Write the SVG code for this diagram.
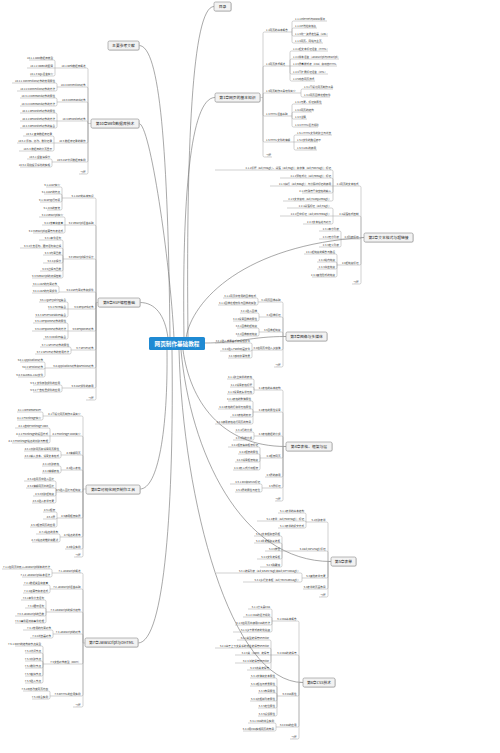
<svg xmlns="http://www.w3.org/2000/svg" width="500" height="753" viewBox="0 0 500 753">
<style>
.t{font-family:"Noto Sans CJK SC","Liberation Sans",sans-serif;font-size:2.6px;fill:#333}
.e{text-anchor:end}
.bx{fill:#f2f2f2;stroke:#8a8a8a;stroke-width:.6}
.sh{fill:#d0d0d0}
.bt{font-family:"Noto Sans CJK SC","Liberation Sans",sans-serif;font-size:3.8px;fill:#222;text-anchor:middle}
.ln{fill:none;stroke:#9a9a9a;stroke-width:.45}
.cv{fill:none;stroke:#6e6e6e;stroke-width:.6}
</style>
<rect width="500" height="753" fill="#fff"/>
<g id="connectors">
<g class="cv">
<path d="M188,338 C186,150 192,6.5 214,6.5"/>
<path d="M184,338 C182,200 190,97.5 215,97.5"/>
<path d="M186,338 C192,300 245,245 364,237.5"/>
<path d="M204,343 C240,343 250,336.5 286,336.5"/>
<path d="M183,350 C190,400 220,446.5 286,446.5"/>
<path d="M181,350 C190,450 240,561.5 331,561.5"/>
<path d="M179,350 C183,500 230,682.5 303,682.5"/>
<path d="M170,338 C168,150 160,45.5 139,45.5"/>
<path d="M174,338 C170,260 150,123.5 139,123.5"/>
<path d="M168,338 C165,315 155,302.5 140,302.5"/>
<path d="M167,350 C168,430 158,489 140,489"/>
<path d="M172,350 C174,500 165,643 138,643"/>
</g>
<g class="ln">
<path d="M260,97.5 H263 M263,97.5 V33.5 Q263,32 264.5,32 H292 M263,97.5 V67.5 Q263,66 264.5,66 H290 M263,97.5 V94.5 Q263,93 264.5,93 H301 M263,97.5 V114.5 Q263,116 264.5,116 H292 M263,97.5 V140.5 Q263,142 264.5,142 H294 M263,97.5 V155.5 Q263,157 264.5,157 H272"/>
<path d="M292,32 V22.5 Q292,21 293.5,21 H327 M292,32 V29.5 Q292,28 293.5,28 H317 M292,32 V34.5 Q292,36 293.5,36 H328 M292,32 V41.5 Q292,43 293.5,43 H323"/>
<path d="M290,66 V52.5 Q290,51 291.5,51 H328 M290,66 V60.5 Q290,59 291.5,59 H339 M290,66 H337 M290,66 V72.5 Q290,74 291.5,74 H328 M290,66 V79.5 Q290,81 291.5,81 H315"/>
<path d="M301,93 V90.5 Q301,89 302.5,89 H333 M301,93 V95.5 Q301,97 302.5,97 H330"/>
<path d="M292,116 V105.5 Q292,104 293.5,104 H322 M292,116 V113.5 Q292,112 293.5,112 H312 M292,116 V117.5 Q292,119 293.5,119 H307 M292,116 V125.5 Q292,127 293.5,127 H318"/>
<path d="M294,142 V136.5 Q294,135 295.5,135 H332 M294,142 H318 M294,142 V148.5 Q294,150 295.5,150 H317"/>

<path d="M364,237.5 H361 M361,237.5 V187.5 Q361,186 359.5,186 H333 M361,237.5 V217.5 Q361,216 359.5,216 H333 M361,237.5 Q361,239 359.5,239 H341 M361,237.5 V263.5 Q361,265 359.5,265 H337 M361,237.5 V282.5 Q361,284 359.5,284 H352"/>
<path d="M333,186 V171.5 Q333,170 331.5,170 H215 M333,186 V179.5 Q333,178 331.5,178 H280 M333,186 H270 M333,186 V191.5 Q333,193 331.5,193 H302 M333,186 V199.5 Q333,201 331.5,201 H283"/>
<path d="M333,216 V209.5 Q333,208 331.5,208 H287 M333,216 H280 M333,216 V222.5 Q333,224 331.5,224 H303"/>
<path d="M341,239 V232.5 Q341,231 339.5,231 H319 M341,239 H319 M341,239 V245.5 Q341,247 339.5,247 H319"/>
<path d="M337,265 V255.5 Q337,254 335.5,254 H304 M337,265 V263.5 Q337,262 335.5,262 H317 M337,265 V267.5 Q337,269 335.5,269 H317 M337,265 V275.5 Q337,277 335.5,277 H312"/>

<path d="M286,336.5 H283 M283,336.5 V303.5 Q283,302 281.5,302 H258 M283,336.5 V318.5 Q283,317 281.5,317 H259 M283,336.5 V333.5 Q283,332 281.5,332 H259 M283,336.5 V348.5 Q283,350 281.5,350 H252 M283,336.5 V365.5 Q283,367 281.5,367 H274"/>
<path d="M258,302 V299.5 Q258,298 256.5,298 H223 M258,302 V303.5 Q258,305 256.5,305 H218 M259,317 V314.5 Q259,313 257.5,313 H240 M259,317 V319.5 Q259,321 257.5,321 H233 M259,332 V329.5 Q259,328 257.5,328 H237 M259,332 V334.5 Q259,336 257.5,336 H237 M252,350 V344.5 Q252,343 250.5,343 H215 M252,350 Q252,351 250.5,351 H220 M252,350 V356.5 Q252,358 250.5,358 H228"/>

<path d="M286,446.5 H283 M283,446.5 V391.5 Q283,390 281.5,390 H254 M283,446.5 V413.5 Q283,412 281.5,412 H253 M283,446.5 V437.5 Q283,436 281.5,436 H254 M283,446.5 V456.5 Q283,458 281.5,458 H260 M283,446.5 V475.5 Q283,477 281.5,477 H265 M283,446.5 V486.5 Q283,488 281.5,488 H262 M283,446.5 V499.5 Q283,501 281.5,501 H275"/>
<path d="M254,390 V380.5 Q254,379 252.5,379 H227 M254,390 V388.5 Q254,387 252.5,387 H230 M254,390 V392.5 Q254,394 252.5,394 H227"/>
<path d="M253,412 V402.5 Q253,401 251.5,401 H228 M253,412 V410.5 Q253,409 251.5,409 H218 M253,412 V415.5 Q253,417 251.5,417 H230 M253,412 V422.5 Q253,424 251.5,424 H215"/>
<path d="M254,436 V433.5 Q254,432 252.5,432 H235 M254,436 V438.5 Q254,440 252.5,440 H233"/>
<path d="M260,458 V448.5 Q260,447 258.5,447 H228 M260,458 V455.5 Q260,454 258.5,454 H238 M260,458 V460.5 Q260,462 258.5,462 H235 M260,458 V468.5 Q260,470 258.5,470 H233"/>
<path d="M262,488 V485.5 Q262,484 260.5,484 H230 M262,488 V490.5 Q262,492 260.5,492 H235"/>

<path d="M331,561.5 H328 M328,561.5 V523.5 Q328,522 326.5,522 H306 M328,561.5 V552.5 Q328,551 326.5,551 H282 M328,561.5 V576.5 Q328,578 326.5,578 H302 M328,561.5 V587.5 Q328,589 326.5,589 H303 M328,561.5 V595.5 Q328,597 326.5,597 H319"/>
<path d="M306,522 V514.5 Q306,513 304.5,513 H278 M306,522 Q306,521 304.5,521 H257 M306,522 V526.5 Q306,528 304.5,528 H278"/>
<path d="M282,551 V537.5 Q282,536 280.5,536 H254 M282,551 V544.5 Q282,543 280.5,543 H254 M282,551 H265 M282,551 V557.5 Q282,559 280.5,559 H257 M282,551 V565.5 Q282,567 280.5,567 H260"/>
<path d="M302,578 V574.5 Q302,573 300.5,573 H216 M302,578 V580.5 Q302,582 300.5,582 H243"/>

<path d="M303,682.5 H299 M299,682.5 V622.5 Q299,621 297.5,621 H272 M299,682.5 V656.5 Q299,655 297.5,655 H271 M299,682.5 V694.5 Q299,696 297.5,696 H277 M299,682.5 V725.5 Q299,727 297.5,727 H276 M299,682.5 V737.5 Q299,739 297.5,739 H290"/>
<path d="M272,621 V610.5 Q272,609 270.5,609 H248 M272,621 V618.5 Q272,617 270.5,617 H243 M272,621 V623.5 Q272,625 270.5,625 H235 M272,621 V630.5 Q272,632 270.5,632 H233"/>
<path d="M271,655 V641.5 Q271,640 269.5,640 H237 M271,655 V649.5 Q271,648 269.5,648 H215 M271,655 H235 M271,655 V661.5 Q271,663 269.5,663 H235 M271,655 V668.5 Q271,670 269.5,670 H247"/>
<path d="M277,696 V679.5 Q277,678 275.5,678 H250 M277,696 V687.5 Q277,686 275.5,686 H250 M277,696 V694.5 Q277,693 275.5,693 H258 M277,696 V699.5 Q277,701 275.5,701 H250 M277,696 V706.5 Q277,708 275.5,708 H258 M277,696 V714.5 Q277,716 275.5,716 H258"/>
<path d="M276,727 V724.5 Q276,723 274.5,723 H248 M276,727 V729.5 Q276,731 274.5,731 H243"/>

<path d="M91,123.5 H88 M88,123.5 V69.5 Q88,68 86.5,68 H55 M88,123.5 V88.5 Q88,87 86.5,87 H57 M88,123.5 V103.5 Q88,102 86.5,102 H57 M88,123.5 Q88,121 86.5,121 H57 M88,123.5 V141.5 Q88,143 86.5,143 H54 M88,123.5 V160.5 Q88,162 86.5,162 H52 M88,123.5 V172.5 Q88,174 86.5,174 H79"/>
<path d="M55,68 V61.5 Q55,60 53.5,60 H29 M55,68 H27 M55,68 V74.5 Q55,76 53.5,76 H30 M57,87 V84.5 Q57,83 55.5,83 H12 M57,87 V89.5 Q57,91 55.5,91 H17 M57,102 V99.5 Q57,98 55.5,98 H20 M57,102 V104.5 Q57,106 55.5,106 H20"/>
<path d="M57,121 V114.5 Q57,113 55.5,113 H20 M57,121 H20 M57,121 V126.5 Q57,128 55.5,128 H20 M54,143 V137.5 Q54,136 52.5,136 H23 M54,143 H17 M54,143 V149.5 Q54,151 52.5,151 H19 M52,162 V160.5 Q52,159 50.5,159 H27 M52,162 V165.5 Q52,167 50.5,167 H20"/>

<path d="M98,302.5 H96 M96,302.5 V199.5 Q96,198 94.5,198 H62 M96,302.5 V226.5 Q96,225 94.5,225 H65 M96,302.5 V260.5 Q96,259 94.5,259 H63 M96,302.5 V293.5 Q96,292 94.5,292 H59 M96,302.5 V307.5 Q96,309 94.5,309 H68 M96,302.5 V329.5 Q96,331 94.5,331 H68 M96,302.5 V348.5 Q96,350 94.5,350 H71 M96,302.5 V366.5 Q96,368 94.5,368 H45 M96,302.5 V386.5 Q96,388 94.5,388 H62 M96,302.5 V398.5 Q96,400 94.5,400 H86"/>
<path d="M62,198 V188.5 Q62,187 60.5,187 H46 M62,198 V195.5 Q62,194 60.5,194 H44 M62,198 V200.5 Q62,202 60.5,202 H40 M62,198 V208.5 Q62,210 60.5,210 H47 M65,225 V218.5 Q65,217 63.5,217 H39 M65,225 H42 M65,225 V231.5 Q65,233 63.5,233 H33"/>
<path d="M63,259 V241.5 Q63,240 61.5,240 H39 M63,259 V249.5 Q63,248 61.5,248 H20 M63,259 V256.5 Q63,255 61.5,255 H43 M63,259 V261.5 Q63,263 61.5,263 H43 M63,259 V269.5 Q63,271 61.5,271 H40 M63,259 V276.5 Q63,278 61.5,278 H32"/>
<path d="M59,292 V287.5 Q59,286 57.5,286 H32 M59,292 Q59,293 57.5,293 H32 M68,309 V303.5 Q68,302 66.5,302 H39 M68,309 H48 M68,309 V315.5 Q68,317 66.5,317 H35 M68,331 V324.5 Q68,323 66.5,323 H33 M68,331 H32 M68,331 V337.5 Q68,339 66.5,339 H43"/>
<path d="M71,350 V348.5 Q71,347 69.5,347 H40 M71,350 V352.5 Q71,354 69.5,354 H35 M45,368 V363.5 Q45,362 43.5,362 H20 M45,368 Q45,369 43.5,369 H25 M45,368 V375.5 Q45,377 43.5,377 H18 M62,388 V386.5 Q62,385 60.5,385 H33 M62,388 V390.5 Q62,392 60.5,392 H33"/>

<path d="M86,489 H83 M83,489 V417.5 Q83,416 81.5,416 H43 M83,489 V437.5 Q83,436 81.5,436 H50 M83,489 V456.5 Q83,455 81.5,455 H61 M83,489 V471.5 Q83,470 81.5,470 H61 M83,489 V490.5 Q83,492 81.5,492 H56 M83,489 V516.5 Q83,518 81.5,518 H57 M83,489 V535.5 Q83,537 81.5,537 H60 M83,489 V547.5 Q83,549 81.5,549 H65 M83,489 V555.5 Q83,557 81.5,557 H74"/>
<path d="M43,416 V413.5 Q43,412 41.5,412 H17 M43,416 V418.5 Q43,420 41.5,420 H17 M50,436 V429.5 Q50,428 48.5,428 H15 M50,436 H18 M50,436 V441.5 Q50,443 48.5,443 H12 M61,455 V452.5 Q61,451 59.5,451 H24 M61,455 V456.5 Q61,458 59.5,458 H24 M61,470 V467.5 Q61,466 59.5,466 H42 M61,470 V471.5 Q61,473 59.5,473 H42"/>
<path d="M56,492 V482.5 Q56,481 54.5,481 H24 M56,492 V489.5 Q56,488 54.5,488 H26 M56,492 V494.5 Q56,496 54.5,496 H33 M56,492 V501.5 Q56,503 54.5,503 H32 M57,518 V513.5 Q57,512 55.5,512 H43 M57,518 Q57,519 55.5,519 H43 M57,518 V525.5 Q57,527 55.5,527 H30 M60,537 V535.5 Q60,534 58.5,534 H36 M60,537 V540.5 Q60,542 58.5,542 H32"/>

<path d="M85,643 H83 M83,643 V574.5 Q83,573 81.5,573 H52 M83,643 V590.5 Q83,589 81.5,589 H50 M83,643 V613.5 Q83,612 81.5,612 H46 M83,643 V635.5 Q83,634 81.5,634 H53 M83,643 V662.5 Q83,664 81.5,664 H43 M83,643 V694.5 Q83,696 81.5,696 H50 M83,643 V705.5 Q83,707 81.5,707 H73"/>
<path d="M52,573 V570.5 Q52,569 50.5,569 H2 M52,573 V575.5 Q52,577 50.5,577 H22 M50,589 V586.5 Q50,585 48.5,585 H23 M50,589 V591.5 Q50,593 48.5,593 H23 M46,612 V601.5 Q46,600 44.5,600 H21 M46,612 V609.5 Q46,608 44.5,608 H25 M46,612 V614.5 Q46,616 44.5,616 H15 M46,612 V621.5 Q46,623 44.5,623 H15"/>
<path d="M53,634 V631.5 Q53,630 51.5,630 H23 M53,634 V636.5 Q53,638 51.5,638 H30 M43,664 V647.5 Q43,646 41.5,646 H15 M43,664 V654.5 Q43,653 41.5,653 H25 M43,664 V662.5 Q43,661 41.5,661 H25 M43,664 V666.5 Q43,668 41.5,668 H25 M43,664 V674.5 Q43,676 41.5,676 H25 M43,664 V681.5 Q43,683 41.5,683 H25 M50,696 V692.5 Q50,691 48.5,691 H23 M50,696 V697.5 Q50,699 48.5,699 H32"/>
</g>
</g>

<g id="nodes">
<g id="root"><rect x="149" y="337" width="56" height="13" rx="1.5" fill="#1f8ad3"/><text x="177" y="345.6" font-family="Noto Sans CJK SC, Liberation Sans, sans-serif" font-size="5.6" font-weight="bold" fill="#fff" text-anchor="middle">网页制作基础教程</text></g>

<g id="c-ml"><rect class="sh" x="214.6" y="2.6" width="17" height="9" rx="1.5"/><rect class="bx" x="214" y="2" width="17" height="9" rx="1.5"/><text class="bt" x="222.5" y="7.85">目录</text></g>
<g id="c1"><rect class="sh" x="215.6" y="93.6" width="45" height="9" rx="1.5"/><rect class="bx" x="215" y="93" width="45" height="9" rx="1.5"/><text class="bt" x="237.5" y="98.85">第1章网页的基本知识</text></g>
<g id="c2"><rect class="sh" x="364.6" y="233.6" width="49" height="9" rx="1.5"/><rect class="bx" x="364" y="233" width="49" height="9" rx="1.5"/><text class="bt" x="388.5" y="238.85">第2章文本格式与超链接</text></g>
<g id="c3"><rect class="sh" x="286.6" y="332.6" width="41" height="9" rx="1.5"/><rect class="bx" x="286" y="332" width="41" height="9" rx="1.5"/><text class="bt" x="306.5" y="337.85">第3章图像与多媒体</text></g>
<g id="c4"><rect class="sh" x="286.6" y="442.6" width="46" height="9" rx="1.5"/><rect class="bx" x="286" y="442" width="46" height="9" rx="1.5"/><text class="bt" x="309" y="447.85">第4章表格、框架与层</text></g>
<g id="c5"><rect class="sh" x="331.6" y="557.6" width="25" height="9" rx="1.5"/><rect class="bx" x="331" y="557" width="25" height="9" rx="1.5"/><text class="bt" x="343.5" y="562.85">第5章表单</text></g>
<g id="c6"><rect class="sh" x="303.6" y="678.6" width="32" height="9" rx="1.5"/><rect class="bx" x="303" y="678" width="32" height="9" rx="1.5"/><text class="bt" x="319" y="683.85">第6章CSS技术</text></g>
<g id="c-ref"><rect class="sh" x="108.6" y="41.6" width="31" height="9" rx="1.5"/><rect class="bx" x="108" y="41" width="31" height="9" rx="1.5"/><text class="bt" x="123.5" y="46.85">主要参考文献</text></g>
<g id="c10"><rect class="sh" x="91.6" y="119.6" width="48" height="9" rx="1.5"/><rect class="bx" x="91" y="119" width="48" height="9" rx="1.5"/><text class="bt" x="115" y="124.85">第10章Web数据库技术</text></g>
<g id="c9"><rect class="sh" x="98.6" y="298.6" width="42" height="9" rx="1.5"/><rect class="bx" x="98" y="298" width="42" height="9" rx="1.5"/><text class="bt" x="119" y="303.85">第9章ASP编程基础</text></g>
<g id="c8"><rect class="sh" x="86.6" y="485.6" width="54" height="9" rx="1.5"/><rect class="bx" x="86" y="485" width="54" height="9" rx="1.5"/><text class="bt" x="113" y="490.85">第8章可视化网页制作工具</text></g>
<g id="c7"><rect class="sh" x="85.6" y="638.6" width="53" height="9" rx="1.5"/><rect class="bx" x="85" y="638" width="53" height="9" rx="1.5"/><text class="bt" x="111.5" y="643.85">第7章JavaScript与DHTML</text></g>

<g transform="translate(0,-0.8)">
<g id="n1-1"><text class="t" x="266" y="32">1.1网页的基本概念</text></g>
<g id="n1-1-1"><text class="t" x="295" y="21">1.1.1Internet与WWW服务</text></g>
<g id="n1-1-2"><text class="t" x="295" y="28">1.1.2IP地址和域名</text></g>
<g id="n1-1-3"><text class="t" x="295" y="36">1.1.3统一资源定位器（URL）</text></g>
<g id="n1-1-4"><text class="t" x="295" y="43">1.1.4网页、网站与主页</text></g>
<g id="n1-2"><text class="t" x="266" y="66">1.2网页技术概述</text></g>
<g id="n1-2-1"><text class="t" x="293" y="51">1.2.1超文本标记语言（HTML）</text></g>
<g id="n1-2-2"><text class="t" x="293" y="59">1.2.2脚本语言（JavaScript与VBScript）</text></g>
<g id="n1-2-3"><text class="t" x="293" y="66">1.2.3层叠样式表（CSS）和动态HTML</text></g>
<g id="n1-2-4"><text class="t" x="293" y="74">1.2.4可扩展标记语言（XML）</text></g>
<g id="n1-2-5"><text class="t" x="293" y="81">1.2.5动态网页技术</text></g>
<g id="n1-3"><text class="t" x="266" y="93">1.3网页制作工具软件简介</text></g>
<g id="n1-3-1"><text class="t" x="304" y="89">1.3.1可视化网页制作工具</text></g>
<g id="n1-3-2"><text class="t" x="304" y="97">1.3.2网页图像处理软件</text></g>
<g id="n1-4"><text class="t" x="266" y="116">1.4 HTML语言基础</text></g>
<g id="n1-4-1"><text class="t" x="295" y="104">1.4.1元素、标记和属性</text></g>
<g id="n1-4-2"><text class="t" x="295" y="112">1.4.2网页的结构</text></g>
<g id="n1-4-3"><text class="t" x="295" y="119">1.4.3注释</text></g>
<g id="n1-4-4"><text class="t" x="295" y="127">1.4.4 HTML语法规则</text></g>
<g id="n1-5"><text class="t" x="266" y="142">1.5 HTML文件的编辑</text></g>
<g id="n1-5-1"><text class="t" x="297" y="135">1.5.1 HTML文件的建立与浏览</text></g>
<g id="n1-5-2"><text class="t" x="297" y="142">1.5.2文件的路径表示</text></g>
<g id="n1-5-3"><text class="t" x="297" y="150">1.5.3 URL的使用</text></g>
<g id="n1-x"><text class="t" x="266" y="157">习题</text></g>

<g id="n2-1"><text class="t e" x="358.5" y="186">2.1网页的文本格式</text></g>
<g id="n2-1-1"><text class="t e" x="331" y="170">2.1.1标题（&amp;lt;Hn&amp;gt;）、段落（&amp;lt;P&amp;gt;）和字体（&amp;lt;FONT&amp;gt;）标记</text></g>
<g id="n2-1-2"><text class="t e" x="331" y="178">2.1.2预格式化（&amp;lt;PRE&amp;gt;）标记</text></g>
<g id="n2-1-3"><text class="t e" x="331" y="186">2.1.3换行（&amp;lt;BR&amp;gt;）与分隔线标记的使用</text></g>
<g id="n2-1-4"><text class="t e" x="331" y="193">2.1.4特殊符号和空格的输入</text></g>
<g id="n2-1-5"><text class="t e" x="331" y="201">2.1.5文字滚动（&amp;lt;MARQUEE&amp;gt;）</text></g>
<g id="n2-2"><text class="t e" x="358.5" y="216">2.2段落格式控制</text></g>
<g id="n2-2-1"><text class="t e" x="331" y="208">2.2.1段落标记（&amp;lt;P&amp;gt;）</text></g>
<g id="n2-2-2"><text class="t e" x="331" y="216">2.2.2居中标记（&amp;lt;CENTER&amp;gt;）</text></g>
<g id="n2-2-3"><text class="t e" x="331" y="224">2.2.3文本缩进与对齐</text></g>
<g id="n2-3"><text class="t e" x="358.5" y="239">2.3列表标记</text></g>
<g id="n2-3-1"><text class="t e" x="339" y="231">2.3.1有序列表</text></g>
<g id="n2-3-2"><text class="t e" x="339" y="239">2.3.2无序列表</text></g>
<g id="n2-3-3"><text class="t e" x="339" y="247">2.3.3定义列表</text></g>
<g id="n2-4"><text class="t e" x="358.5" y="265">2.4超链接标记</text></g>
<g id="n2-4-1"><text class="t e" x="335" y="254">2.4.1超链接的概念与路径</text></g>
<g id="n2-4-2"><text class="t e" x="335" y="262">2.4.2站内链接</text></g>
<g id="n2-4-3"><text class="t e" x="335" y="269">2.4.3书签链接</text></g>
<g id="n2-4-4"><text class="t e" x="335" y="277">2.4.4其他形式的链接</text></g>
<g id="n2-x"><text class="t e" x="358.5" y="284">习题</text></g>

<g id="n3-1"><text class="t e" x="280.5" y="302">3.1网页图像基础</text></g>
<g id="n3-1-1"><text class="t e" x="256" y="298">3.1.1网页中常用的图像格式</text></g>
<g id="n3-1-2"><text class="t e" x="256" y="305">3.1.2图像处理软件与图像的获取</text></g>
<g id="n3-2"><text class="t e" x="280.5" y="317">3.2图像标记</text></g>
<g id="n3-2-1"><text class="t e" x="257" y="313">3.2.1插入图像</text></g>
<g id="n3-2-2"><text class="t e" x="257" y="321">3.2.2设置图像的属性</text></g>
<g id="n3-3"><text class="t e" x="280.5" y="332">3.3图像超链接</text></g>
<g id="n3-3-1"><text class="t e" x="257" y="328">3.3.1图像的超链接</text></g>
<g id="n3-3-2"><text class="t e" x="257" y="336">3.3.2图像映射链接</text></g>
<g id="n3-4"><text class="t e" x="280.5" y="350">3.4在网页中插入多媒体</text></g>
<g id="n3-4-1"><text class="t e" x="250" y="343">3.4.1插入背景音乐和视频文件</text></g>
<g id="n3-4-2"><text class="t e" x="250" y="351">3.4.2插入Flash动画文件</text></g>
<g id="n3-4-3"><text class="t e" x="250" y="358">3.4.3移动字幕效果</text></g>
<g id="n3-x"><text class="t e" x="280.5" y="367">习题</text></g>

<g id="n4-1"><text class="t e" x="280.5" y="390">4.1表格的基本结构</text></g>
<g id="n4-1-1"><text class="t e" x="252" y="379">4.1.1建立简单的表格</text></g>
<g id="n4-1-2"><text class="t e" x="252" y="387">4.1.2设置表格标题</text></g>
<g id="n4-1-3"><text class="t e" x="252" y="394">4.1.3设置表头单元格</text></g>
<g id="n4-2"><text class="t e" x="280.5" y="412">4.2表格的属性设置</text></g>
<g id="n4-2-1"><text class="t e" x="251" y="401">4.2.1表格的整体属性</text></g>
<g id="n4-2-2"><text class="t e" x="251" y="409">4.2.2表格的行和单元格属性</text></g>
<g id="n4-2-3"><text class="t e" x="251" y="417">4.2.3表格的嵌套</text></g>
<g id="n4-2-4"><text class="t e" x="251" y="424">4.2.4使用表格进行网页的布局</text></g>
<g id="n4-3"><text class="t e" x="280.5" y="436">4.3表格数据的分组</text></g>
<g id="n4-3-1"><text class="t e" x="252" y="432">4.3.1行的分组</text></g>
<g id="n4-3-2"><text class="t e" x="252" y="440">4.3.2列的分组</text></g>
<g id="n4-4"><text class="t e" x="280.5" y="458">4.4框架网页</text></g>
<g id="n4-4-1"><text class="t e" x="258" y="447">4.4.1框架集和框架标记</text></g>
<g id="n4-4-2"><text class="t e" x="258" y="454">4.4.2框架的属性</text></g>
<g id="n4-4-3"><text class="t e" x="258" y="462">4.4.3设置框架链接</text></g>
<g id="n4-4-4"><text class="t e" x="258" y="470">4.4.4嵌入式浮动框架</text></g>
<g id="n4-5"><text class="t e" x="280.5" y="477">4.5层的使用</text></g>
<g id="n4-6"><text class="t e" x="280.5" y="488">4.6层标记</text></g>
<g id="n4-6-1"><text class="t e" x="260" y="484">4.6.1 DIV和SPAN标记</text></g>
<g id="n4-6-2"><text class="t e" x="260" y="492">4.6.2层的属性与定位</text></g>
<g id="n4-x"><text class="t e" x="280.5" y="501">习题</text></g>

<g id="n5-1"><text class="t e" x="325.5" y="522">5.1创建表单</text></g>
<g id="n5-1-1"><text class="t e" x="304" y="513">5.1.1表单的基本结构</text></g>
<g id="n5-1-2"><text class="t e" x="304" y="521">5.1.2表单（&amp;lt;FORM&amp;gt;）标记</text></g>
<g id="n5-1-3"><text class="t e" x="304" y="528">5.1.3表单的提交方式</text></g>
<g id="n5-2"><text class="t e" x="325.5" y="551">5.2&amp;lt;INPUT&amp;gt;标记</text></g>
<g id="n5-2-1"><text class="t e" x="280" y="536">5.2.1文本框和密码框</text></g>
<g id="n5-2-2"><text class="t e" x="280" y="543">5.2.2单选框和复选框</text></g>
<g id="n5-2-3"><text class="t e" x="280" y="551">5.2.3按钮</text></g>
<g id="n5-2-4"><text class="t e" x="280" y="559">5.2.4文件选择框</text></g>
<g id="n5-2-5"><text class="t e" x="280" y="567">5.2.5隐藏域</text></g>
<g id="n5-3"><text class="t e" x="325.5" y="578">5.3其他表单元素</text></g>
<g id="n5-3-1"><text class="t e" x="300" y="573">5.3.1选择列表（&amp;lt;SELECT&amp;gt;和&amp;lt;OPTION&amp;gt;）</text></g>
<g id="n5-3-2"><text class="t e" x="300" y="582">5.3.2多行文本框（&amp;lt;TEXTAREA&amp;gt;）</text></g>
<g id="n5-4"><text class="t e" x="325.5" y="589">5.4表单的页面布局</text></g>
<g id="n5-x"><text class="t e" x="325.5" y="597">习题</text></g>

<g id="n6-1"><text class="t e" x="296.5" y="621">6.1 CSS基本概念</text></g>
<g id="n6-1-1"><text class="t e" x="270" y="609">6.1.1什么是CSS</text></g>
<g id="n6-1-2"><text class="t e" x="270" y="617">6.1.2 CSS的语法规则</text></g>
<g id="n6-1-3"><text class="t e" x="270" y="625">6.1.3在网页中使用CSS的方法</text></g>
<g id="n6-1-4"><text class="t e" x="270" y="632">6.1.4多个样式表的优先级</text></g>
<g id="n6-2"><text class="t e" x="296.5" y="655">6.2 CSS的选择符</text></g>
<g id="n6-2-1"><text class="t e" x="269" y="640">6.2.1类型选择符selector</text></g>
<g id="n6-2-2"><text class="t e" x="269" y="648">6.2.2基于上下文关系的派生选择符selector</text></g>
<g id="n6-2-3"><text class="t e" x="269" y="655">6.2.3类（class）选择符</text></g>
<g id="n6-2-4"><text class="t e" x="269" y="663">6.2.4 id选择符selector</text></g>
<g id="n6-2-5"><text class="t e" x="269" y="670">6.2.5伪类选择符</text></g>
<g id="n6-3"><text class="t e" x="296.5" y="696">6.3 CSS属性</text></g>
<g id="n6-3-1"><text class="t e" x="275" y="678">6.3.1字体和文本属性</text></g>
<g id="n6-3-2"><text class="t e" x="275" y="686">6.3.2颜色与背景属性</text></g>
<g id="n6-3-3"><text class="t e" x="275" y="693">6.3.3布局属性</text></g>
<g id="n6-3-4"><text class="t e" x="275" y="701">6.3.4边框和列表属性</text></g>
<g id="n6-3-5"><text class="t e" x="275" y="708">6.3.5定位属性</text></g>
<g id="n6-3-6"><text class="t e" x="275" y="716">6.3.6滤镜属性</text></g>
<g id="n6-4"><text class="t e" x="296.5" y="727">6.4 CSS的应用</text></g>
<g id="n6-4-1"><text class="t e" x="274" y="723">6.4.1 CSS的综合实例</text></g>
<g id="n6-4-2"><text class="t e" x="274" y="731">6.4.2用CSS实现网页的布局</text></g>
<g id="n6-x"><text class="t e" x="296.5" y="739">习题</text></g>

<g id="n10-1"><text class="t e" x="85.5" y="68">10.1 Web数据库概述</text></g>
<g id="n10-1-1"><text class="t e" x="53" y="60">10.1.1 ADO数据库模型</text></g>
<g id="n10-1-2"><text class="t e" x="53" y="68">10.1.2 ODBC的配置</text></g>
<g id="n10-1-3"><text class="t e" x="53" y="76">10.1.3 SQL语言简介</text></g>
<g id="n10-2"><text class="t e" x="85.5" y="87">10.2 Connection对象</text></g>
<g id="n10-2-1"><text class="t e" x="55" y="83">10.2.1 Connection对象的常用属性</text></g>
<g id="n10-2-2"><text class="t e" x="55" y="91">10.2.2 Connection对象的方法</text></g>
<g id="n10-3"><text class="t e" x="85.5" y="102">10.3 Command对象</text></g>
<g id="n10-3-1"><text class="t e" x="55" y="98">10.3.1 Command对象的属性</text></g>
<g id="n10-3-2"><text class="t e" x="55" y="106">10.3.2 Command对象的方法</text></g>
<g id="n10-4"><text class="t e" x="85.5" y="121">10.4 Recordset对象</text></g>
<g id="n10-4-1"><text class="t e" x="55" y="113">10.4.1 Recordset对象的属性</text></g>
<g id="n10-4-2"><text class="t e" x="55" y="121">10.4.2 Recordset对象的方法</text></g>
<g id="n10-4-3"><text class="t e" x="55" y="128">10.4.3 Recordset对象的集合</text></g>
<g id="n10-5"><text class="t e" x="85.5" y="143">10.5 数据库记录的操作</text></g>
<g id="n10-5-1"><text class="t e" x="52" y="136">10.5.1 查询数据库记录</text></g>
<g id="n10-5-2"><text class="t e" x="52" y="143">10.5.2 添加、修改、删除记录</text></g>
<g id="n10-5-3"><text class="t e" x="52" y="151">10.5.3 数据库的分页显示</text></g>
<g id="n10-6"><text class="t e" x="85.5" y="162">10.6 ASP访问数据库实例</text></g>
<g id="n10-6-1"><text class="t e" x="50" y="159">10.6.1 留言簿程序</text></g>
<g id="n10-6-2"><text class="t e" x="50" y="167">10.6.2 网络投票系统的实现</text></g>
<g id="n10-x"><text class="t e" x="85.5" y="174">习题</text></g>

<g id="n9-1"><text class="t e" x="93.5" y="198">9.1 ASP的基本知识</text></g>
<g id="n9-1-1"><text class="t e" x="60" y="187">9.1.1ASP简介</text></g>
<g id="n9-1-2"><text class="t e" x="60" y="194">9.1.2ASP的特点</text></g>
<g id="n9-1-3"><text class="t e" x="60" y="202">9.1.3ASP运行环境</text></g>
<g id="n9-1-4"><text class="t e" x="60" y="210">9.1.4IIS的安装</text></g>
<g id="n9-2"><text class="t e" x="93.5" y="225">9.2 VBScript语言基础</text></g>
<g id="n9-2-1"><text class="t e" x="63" y="217">9.2.1VBScript简介</text></g>
<g id="n9-2-2"><text class="t e" x="63" y="225">9.2.2常量和变量</text></g>
<g id="n9-2-3"><text class="t e" x="63" y="233">9.2.3VBScript运算符与表达式</text></g>
<g id="n9-3"><text class="t e" x="93.5" y="259">9.3 VBScript程序设计</text></g>
<g id="n9-3-1"><text class="t e" x="61" y="240">9.3.1条件语句</text></g>
<g id="n9-3-2"><text class="t e" x="61" y="248">9.3.2分支语句、循环语句和过程</text></g>
<g id="n9-3-3"><text class="t e" x="61" y="255">9.3.3内置函数</text></g>
<g id="n9-3-4"><text class="t e" x="61" y="263">9.3.4子程序</text></g>
<g id="n9-3-5"><text class="t e" x="61" y="271">9.3.5过程与函数</text></g>
<g id="n9-3-6"><text class="t e" x="61" y="278">9.3.6VBScript的流程控制</text></g>
<g id="n9-4"><text class="t e" x="93.5" y="292">9.4 ASP内置对象和组件</text></g>
<g id="n9-4-1"><text class="t e" x="57" y="286">9.4.1 ASP的内置对象</text></g>
<g id="n9-4-2"><text class="t e" x="57" y="293">9.4.2 ASP的内置组件</text></g>
<g id="n9-5"><text class="t e" x="93.5" y="309">9.5 Request对象</text></g>
<g id="n9-5-1"><text class="t e" x="66" y="302">9.5.1 QueryString集合</text></g>
<g id="n9-5-2"><text class="t e" x="66" y="309">9.5.2 Form集合</text></g>
<g id="n9-5-3"><text class="t e" x="66" y="317">9.5.3 ServerVariables集合</text></g>
<g id="n9-6"><text class="t e" x="93.5" y="331">9.6 Response对象</text></g>
<g id="n9-6-1"><text class="t e" x="66" y="323">9.6.1 Response对象的属性</text></g>
<g id="n9-6-2"><text class="t e" x="66" y="331">9.6.2 Response对象的方法</text></g>
<g id="n9-6-3"><text class="t e" x="66" y="339">9.6.3 Cookies集合</text></g>
<g id="n9-7"><text class="t e" x="93.5" y="350">9.7 Server对象</text></g>
<g id="n9-7-1"><text class="t e" x="69" y="347">9.7.1 Server对象的属性</text></g>
<g id="n9-7-2"><text class="t e" x="69" y="354">9.7.2 Server对象的常用方法</text></g>
<g id="n9-8"><text class="t e" x="93.5" y="368">9.8 Application对象和Session对象</text></g>
<g id="n9-8-1"><text class="t e" x="43" y="362">9.8.1 Application对象</text></g>
<g id="n9-8-2"><text class="t e" x="43" y="369">9.8.2 Session对象</text></g>
<g id="n9-8-3"><text class="t e" x="43" y="377">9.8.3 GLOBAL.ASA文件</text></g>
<g id="n9-9"><text class="t e" x="93.5" y="388">9.9 ASP组件的使用</text></g>
<g id="n9-9-1"><text class="t e" x="60" y="385">9.9.1 文件存取组件的应用</text></g>
<g id="n9-9-2"><text class="t e" x="60" y="392">9.9.2 广告轮显组件的应用</text></g>
<g id="n9-x"><text class="t e" x="93.5" y="400">习题</text></g>

<g id="n8-1"><text class="t e" x="80.5" y="416">8.1可视化网页制作工具简介</text></g>
<g id="n8-1-1"><text class="t e" x="41" y="412">8.1.1 Dreamweaver</text></g>
<g id="n8-1-2"><text class="t e" x="41" y="420">8.1.2 FrontPage简介</text></g>
<g id="n8-2"><text class="t e" x="80.5" y="436">8.2 FrontPage 2003简介</text></g>
<g id="n8-2-1"><text class="t e" x="48" y="428">8.2.1启动FrontPage 2003</text></g>
<g id="n8-2-2"><text class="t e" x="48" y="436">8.2.2 FrontPage的视图方式</text></g>
<g id="n8-2-3"><text class="t e" x="48" y="443">8.2.3 FrontPage站点的创建与管理</text></g>
<g id="n8-3"><text class="t e" x="80.5" y="455">8.3编辑网页</text></g>
<g id="n8-3-1"><text class="t e" x="59" y="451">8.3.1创建网页和设置网页属性</text></g>
<g id="n8-3-2"><text class="t e" x="59" y="458">8.3.2输入文本、设置文本格式</text></g>
<g id="n8-4"><text class="t e" x="80.5" y="470">8.4插入表格</text></g>
<g id="n8-4-1"><text class="t e" x="59" y="466">8.4.1创建表格</text></g>
<g id="n8-4-2"><text class="t e" x="59" y="473">8.4.2编辑表格</text></g>
<g id="n8-5"><text class="t e" x="80.5" y="492">8.5插入图片与超链接</text></g>
<g id="n8-5-1"><text class="t e" x="54" y="481">8.5.1在网页中插入图片</text></g>
<g id="n8-5-2"><text class="t e" x="54" y="488">8.5.2编辑网页中的图片</text></g>
<g id="n8-5-3"><text class="t e" x="54" y="496">8.5.3创建超链接</text></g>
<g id="n8-5-4"><text class="t e" x="54" y="503">8.5.4插入表单元素</text></g>
<g id="n8-6"><text class="t e" x="80.5" y="518">8.6使用框架和层</text></g>
<g id="n8-6-1"><text class="t e" x="55" y="512">8.6.1框架</text></g>
<g id="n8-6-2"><text class="t e" x="55" y="519">8.6.2层</text></g>
<g id="n8-6-3"><text class="t e" x="55" y="527">8.6.3框架网页的应用</text></g>
<g id="n8-7"><text class="t e" x="80.5" y="537">8.7站点的发布</text></g>
<g id="n8-7-1"><text class="t e" x="58" y="534">8.7.1站点的发布</text></g>
<g id="n8-7-2"><text class="t e" x="58" y="542">8.7.2站点的维护和更新</text></g>
<g id="n8-8"><text class="t e" x="80.5" y="549">8.8综合实例</text></g>
<g id="n8-x"><text class="t e" x="80.5" y="557">习题</text></g>

<g id="n7-1"><text class="t e" x="80.5" y="573">7.1 JavaScript概述</text></g>
<g id="n7-1-1"><text class="t e" x="50" y="569">7.1.1在网页中嵌入JavaScript脚本的方法</text></g>
<g id="n7-1-2"><text class="t e" x="50" y="577">7.1.2 JavaScript基本语法</text></g>
<g id="n7-2"><text class="t e" x="80.5" y="589">7.2 JavaScript语言基础</text></g>
<g id="n7-2-1"><text class="t e" x="48" y="585">7.2.1数据类型和变量</text></g>
<g id="n7-2-2"><text class="t e" x="48" y="593">7.2.2运算符和表达式</text></g>
<g id="n7-3"><text class="t e" x="80.5" y="612">7.3 JavaScript的程序结构</text></g>
<g id="n7-3-1"><text class="t e" x="44" y="600">7.3.1条件分支语句</text></g>
<g id="n7-3-2"><text class="t e" x="44" y="608">7.3.2循环语句</text></g>
<g id="n7-3-3"><text class="t e" x="44" y="616">7.3.3 JavaScript的函数</text></g>
<g id="n7-3-4"><text class="t e" x="44" y="623">7.3.4事件驱动和事件处理</text></g>
<g id="n7-4"><text class="t e" x="80.5" y="634">7.4 JavaScript的对象</text></g>
<g id="n7-4-1"><text class="t e" x="51" y="630">7.4.1常用的内置对象</text></g>
<g id="n7-4-2"><text class="t e" x="51" y="638">7.4.2浏览器对象</text></g>
<g id="n7-5"><text class="t e" x="80.5" y="664">7.5文档对象模型（DOM）</text></g>
<g id="n7-5-1"><text class="t e" x="41" y="646">7.5.1 DOM的结构和节点类型</text></g>
<g id="n7-5-2"><text class="t e" x="41" y="653">7.5.2访问节点</text></g>
<g id="n7-5-3"><text class="t e" x="41" y="661">7.5.3创建节点</text></g>
<g id="n7-5-4"><text class="t e" x="41" y="668">7.5.4删除节点</text></g>
<g id="n7-5-5"><text class="t e" x="41" y="676">7.5.5替换节点</text></g>
<g id="n7-5-6"><text class="t e" x="41" y="683">7.5.6插入节点</text></g>
<g id="n7-6"><text class="t e" x="80.5" y="696">7.6 DHTML的应用实例</text></g>
<g id="n7-6-1"><text class="t e" x="48" y="691">7.6.1动态改变网页内容</text></g>
<g id="n7-6-2"><text class="t e" x="48" y="699">7.6.2综合实例</text></g>
<g id="n7-x"><text class="t e" x="80.5" y="707">习题</text></g>
</g>
</g>
</svg>
